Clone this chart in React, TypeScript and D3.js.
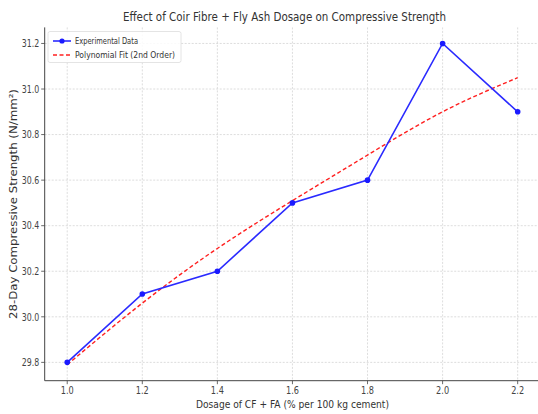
import React from "react";
import * as d3 from "d3";

const dosage = [1.0, 1.2, 1.4, 1.6, 1.8, 2.0, 2.2];
const experimental = [29.8, 30.1, 30.2, 30.5, 30.6, 31.2, 30.9];
const polyFit = [29.79, 30.06, 30.3, 30.51, 30.71, 30.9, 31.05];
const xTicks = [1.0, 1.2, 1.4, 1.6, 1.8, 2.0, 2.2];
const yTicks = [29.8, 30.0, 30.2, 30.4, 30.6, 30.8, 31.0, 31.2];

const W = 538;
const H = 414;
const left = 44.7;
const right = 540.2;
const top = 27.4;
const bottom = 380.7;
const FONT = "'DejaVu Sans', sans-serif";

export default function App() {
  const x = d3.scaleLinear().domain([0.94, 2.26]).range([left, right]);
  const y = d3.scaleLinear().domain([29.7195, 31.2705]).range([bottom, top]);

  const expLine = d3
    .line<number>()
    .x((_, i) => x(dosage[i]))
    .y((d) => y(d));
  const fitLine = d3
    .line<number>()
    .x((_, i) => x(dosage[i]))
    .y((d) => y(d))
    .curve(d3.curveNatural);

  return (
    <svg
      width={W}
      height={H}
      style={{ position: "absolute", left: 0, top: 0, background: "#fff" }}
      fontFamily={FONT}
    >
      <rect x={0} y={0} width={W} height={H} fill="#fff" />
      {/* grid */}
      {xTicks.map((t) => (
        <line
          key={"gx" + t}
          x1={x(t)}
          x2={x(t)}
          y1={top}
          y2={bottom}
          stroke="#d4d4d4"
          strokeWidth={0.8}
          strokeDasharray="2,1.5"
        />
      ))}
      {yTicks.map((t) => (
        <line
          key={"gy" + t}
          x1={left}
          x2={right}
          y1={y(t)}
          y2={y(t)}
          stroke="#d4d4d4"
          strokeWidth={0.8}
          strokeDasharray="2,1.5"
        />
      ))}
      {/* fit */}
      <path
        d={fitLine(polyFit) || ""}
        fill="none"
        stroke="#ff2020"
        strokeWidth={1.4}
        strokeDasharray="4,2.5"
      />
      {/* experimental */}
      <path d={expLine(experimental) || ""} fill="none" stroke="#2a2aff" strokeWidth={1.6} />
      {experimental.map((v, i) => (
        <circle key={"p" + i} cx={x(dosage[i])} cy={y(v)} r={2.8} fill="#1a1aff" />
      ))}
      {/* spines */}
      <line x1={left} x2={left} y1={top} y2={bottom} stroke="#444" strokeWidth={1} />
      <line x1={left} x2={right} y1={bottom} y2={bottom} stroke="#444" strokeWidth={1} />
      {/* ticks */}
      {xTicks.map((t) => (
        <g key={"tx" + t}>
          <line x1={x(t)} x2={x(t)} y1={bottom} y2={bottom + 3.5} stroke="#444" strokeWidth={0.8} />
          <text
            x={x(t)}
            y={bottom + 13.5}
            textAnchor="middle"
            fontSize={10.5}
            fill="#444"
            textLength={13}
            lengthAdjust="spacingAndGlyphs"
          >
            {t.toFixed(1)}
          </text>
        </g>
      ))}
      {yTicks.map((t) => (
        <g key={"ty" + t}>
          <line x1={left - 3.5} x2={left} y1={y(t)} y2={y(t)} stroke="#444" strokeWidth={0.8} />
          <text
            x={left - 5.5}
            y={y(t) + 3.8}
            textAnchor="end"
            fontSize={10.5}
            fill="#444"
            textLength={17.5}
            lengthAdjust="spacingAndGlyphs"
          >
            {t.toFixed(1)}
          </text>
        </g>
      ))}
      {/* title */}
      <text
        x={(left + right) / 2 - 8}
        y={21}
        textAnchor="middle"
        fontSize={12.5}
        fill="#333"
        textLength={323}
        lengthAdjust="spacingAndGlyphs"
      >
        Effect of Coir Fibre + Fly Ash Dosage on Compressive Strength
      </text>
      {/* axis labels */}
      <text
        x={(left + right) / 2}
        y={407.5}
        textAnchor="middle"
        fontSize={10.5}
        fill="#333"
        textLength={193}
        lengthAdjust="spacingAndGlyphs"
      >
        Dosage of CF + FA (% per 100 kg cement)
      </text>
      <text
        transform={`translate(16.5, ${(top + bottom) / 2}) rotate(-90)`}
        textAnchor="middle"
        fontSize={10.5}
        fill="#333"
        textLength={230}
        lengthAdjust="spacingAndGlyphs"
      >
        28-Day Compressive Strength (N/mm²)
      </text>
      {/* legend */}
      <rect x={48} y={31.5} width={133} height={31} rx={2} fill="#fff" fillOpacity={0.85} stroke="#ddd" strokeWidth={0.8} />
      <line x1={53} x2={71} y1={41} y2={41} stroke="#2a2aff" strokeWidth={1.6} />
      <circle cx={62} cy={41} r={2.6} fill="#1a1aff" />
      <text x={75} y={44} fontSize={8.5} fill="#333" textLength={63} lengthAdjust="spacingAndGlyphs">
        Experimental Data
      </text>
      <line x1={53} x2={71} y1={55} y2={55} stroke="#ff2020" strokeWidth={1.4} strokeDasharray="4,2.5" />
      <text x={75} y={58} fontSize={8.5} fill="#333" textLength={100} lengthAdjust="spacingAndGlyphs">
        Polynomial Fit (2nd Order)
      </text>
    </svg>
  );
}
